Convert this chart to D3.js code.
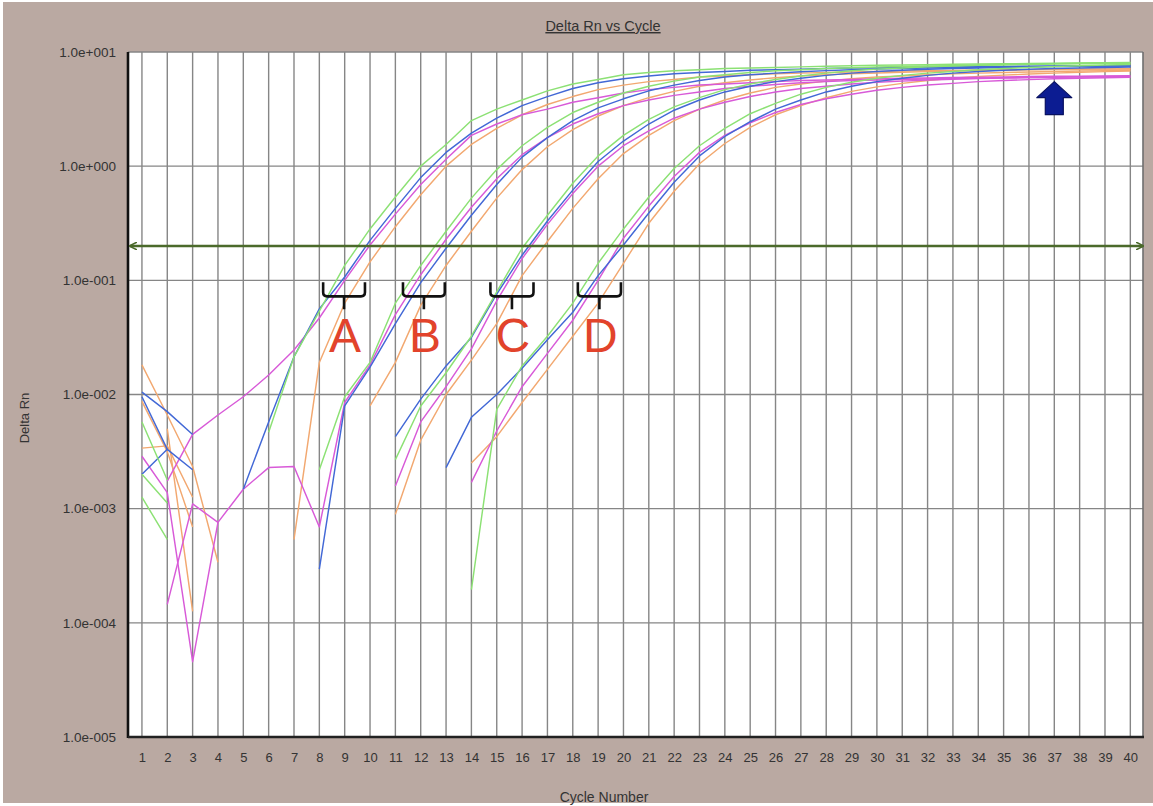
<!DOCTYPE html>
<html><head><meta charset="utf-8">
<script src="https://cdn.jsdelivr.net/npm/d3@7"></script>
<style>
html,body{margin:0;padding:0;background:#fff;}
svg{display:block;}
text{font-family:"Liberation Sans",Arial,sans-serif;}
</style>
</head><body>
<svg id="chart" width="1153" height="806"></svg>
<script>
// ---------------- DATA (Delta Rn per cycle 1..40, null = not plotted) ----------------
const cycles = d3.range(1, 41);
const yTickValues = [1e1, 1e0, 1e-1, 1e-2, 1e-3, 1e-4, 1e-5];
const yTickLabels = ["1.0e+001", "1.0e+000", "1.0e-001", "1.0e-002", "1.0e-003", "1.0e-004", "1.0e-005"];
const threshold = 0.2;
const bracketLabels = ["A", "B", "C", "D"];
const bracketFrom = [8.15, 11.3, 14.75, 18.2];
const bracketTo = [9.8, 12.95, 16.45, 19.9];
const arrowCycle = 37;
const arrowTipValue = 5.5;

const aGreen = [0.00575,0.00178,null,null,null,0.00468,0.0214,0.0537,0.135,0.282,0.537,1.0,1.55,2.51,3.16,3.80,4.57,5.25,5.75,6.31,6.61,6.84,7.0,7.16,7.24,7.33,7.41,7.50,7.59,7.64,7.69,7.74,7.80,7.85,7.89,7.93,7.96,8.0,8.04,8.07];
const aBlue = [0.0105,0.00708,0.00447,null,0.00148,0.00575,0.0214,0.0562,0.107,0.224,0.427,0.794,1.32,1.95,2.63,3.39,4.07,4.79,5.37,5.82,6.17,6.46,6.61,6.76,6.92,7.0,7.08,7.16,7.24,7.29,7.35,7.38,7.41,7.45,7.48,7.52,7.53,7.55,7.57,7.59];
const aMagenta = [null,0.00174,0.00447,0.00661,0.00955,0.0148,0.0245,0.0468,0.1,0.204,0.38,0.692,1.15,1.86,2.34,2.82,3.16,3.63,3.98,4.37,4.68,4.90,5.13,5.25,5.37,5.50,5.62,5.69,5.75,5.82,5.89,5.93,5.97,6.01,6.05,6.10,6.12,6.15,6.18,6.21];
const aOrange = [0.0182,0.00661,0.00234,0.000339,null,null,0.000537,0.0191,0.0631,0.145,0.295,0.562,1.0,1.55,2.14,2.82,3.47,4.07,4.68,5.13,5.50,5.75,6.03,6.17,6.31,6.46,6.53,6.61,6.68,6.76,6.81,6.85,6.90,6.95,6.98,7.01,7.05,7.08,7.11,7.14];

const bGreen = [0.002,0.00112,null,null,null,null,null,0.00219,0.00955,0.0191,0.0631,0.135,0.269,0.525,0.933,1.51,2.19,2.95,3.63,4.37,5.01,5.56,6.03,6.31,6.61,6.84,7.0,7.16,7.28,7.38,7.46,7.53,7.60,7.67,7.73,7.78,7.83,7.89,7.93,7.96];
const bMagenta = [0.00288,0.00138,0.0000457,0.000759,0.00148,0.00229,0.00234,0.000692,0.00851,0.0182,0.0501,0.112,0.229,0.437,0.776,1.26,1.78,2.34,2.88,3.39,3.80,4.17,4.47,4.79,5.01,5.19,5.37,5.50,5.62,5.69,5.75,5.81,5.86,5.90,5.94,5.97,6.0,6.03,6.04,6.05];
const bBlue = [0.00955,0.00331,0.00219,null,null,null,null,0.000295,0.00794,0.0174,0.0417,0.0955,0.191,0.372,0.692,1.20,1.78,2.51,3.24,3.89,4.57,5.13,5.62,6.03,6.31,6.53,6.71,6.87,7.0,7.10,7.18,7.24,7.31,7.36,7.41,7.45,7.48,7.52,7.55,7.59];
const bOrange = [0.00871,0.00316,0.000692,null,null,null,null,null,null,0.00794,0.0191,0.0603,0.135,0.269,0.525,0.933,1.48,2.09,2.75,3.39,3.98,4.52,5.01,5.37,5.69,5.96,6.17,6.31,6.46,6.56,6.65,6.73,6.81,6.87,6.92,6.97,7.01,7.05,7.08,7.11];

const cGreen = [0.00126,0.000537,null,null,null,null,null,null,null,null,0.00269,0.00794,0.0155,0.0324,0.0794,0.191,0.372,0.708,1.23,1.86,2.57,3.31,3.98,4.68,5.25,5.75,6.17,6.53,6.84,7.08,7.24,7.41,7.53,7.66,7.74,7.83,7.91,7.98,8.04,8.09];
const cBlue = [0.002,0.00331,null,null,null,null,null,null,null,null,0.00427,0.00912,0.0178,0.0316,0.0759,0.166,0.331,0.617,1.10,1.66,2.34,3.09,3.80,4.47,5.01,5.50,5.89,6.24,6.53,6.76,6.92,7.05,7.16,7.24,7.33,7.40,7.45,7.50,7.53,7.57];
const cMagenta = [null,0.000145,0.0011,0.000759,null,null,null,null,null,null,0.00158,0.00575,0.0117,0.0251,0.0661,0.155,0.309,0.575,1.0,1.51,2.04,2.63,3.16,3.63,4.07,4.47,4.79,5.01,5.25,5.43,5.56,5.69,5.78,5.86,5.93,5.98,6.03,6.07,6.10,6.12];
const cOrange = [0.00339,0.00355,0.00126,null,null,null,null,null,null,null,0.000891,0.00398,0.01,0.02,0.0417,0.11,0.219,0.427,0.776,1.29,1.86,2.51,3.16,3.80,4.37,4.90,5.25,5.56,5.82,6.03,6.17,6.31,6.43,6.53,6.61,6.68,6.76,6.82,6.87,6.92];

const dGreen = [null,null,null,null,null,null,null,null,null,null,null,null,null,0.000195,0.00741,0.0178,0.0324,0.0631,0.141,0.282,0.537,0.955,1.51,2.14,2.88,3.55,4.27,4.90,5.43,5.89,6.24,6.53,6.76,7.0,7.16,7.33,7.46,7.59,7.69,7.78];
const dMagenta = [null,null,null,null,null,null,null,null,null,null,null,null,null,0.0017,0.00479,0.0117,0.0229,0.0447,0.1,0.234,0.447,0.813,1.32,1.86,2.40,2.95,3.47,3.89,4.27,4.62,4.90,5.13,5.31,5.50,5.62,5.73,5.82,5.89,5.96,6.01];
const dBlue = [null,null,null,null,null,null,null,null,null,null,null,null,0.00229,0.00631,0.01,0.017,0.0302,0.0525,0.11,0.204,0.389,0.724,1.23,1.82,2.45,3.16,3.80,4.47,5.01,5.50,5.89,6.24,6.53,6.76,6.92,7.05,7.16,7.24,7.33,7.40];
const dOrange = [null,0.00501,0.000126,null,null,null,null,null,null,null,null,null,null,0.00251,0.00427,0.00851,0.0166,0.0324,0.0631,0.141,0.316,0.603,1.05,1.58,2.19,2.82,3.39,3.98,4.52,4.95,5.31,5.62,5.89,6.10,6.27,6.41,6.53,6.64,6.73,6.81];

const seriesNames = ["aOrange","bOrange","cOrange","dOrange","aMagenta","bMagenta","cMagenta","dMagenta","aBlue","bBlue","cBlue","dBlue","aGreen","bGreen","cGreen","dGreen"];
const seriesValues = [aOrange,bOrange,cOrange,dOrange,aMagenta,bMagenta,cMagenta,dMagenta,aBlue,bBlue,cBlue,dBlue,aGreen,bGreen,cGreen,dGreen];
const palette = {Orange:"#f2a870", Magenta:"#d85ad8", Blue:"#4268d6", Green:"#8ce174"};

// ---------------- LAYOUT ----------------
const W = 1153, H = 806;
const plot = {left:128, right:1143, top:52, bottom:737};
const svg = d3.select("#chart");

svg.append("rect").attr("x",3).attr("y",2).attr("width",W-3).attr("height",H-5).attr("fill","#baa9a2");
svg.append("rect").attr("x",plot.left).attr("y",plot.top).attr("width",plot.right-plot.left).attr("height",plot.bottom-plot.top).attr("fill","#fff");

const x = d3.scaleLinear().domain([0.45, 40.5]).range([plot.left, plot.right]);
const y = d3.scaleLog().domain([1e-5, 1e1]).range([plot.bottom, plot.top]);

// grid
const grid = svg.append("g");
grid.selectAll("line.v").data(cycles).join("line")
  .attr("x1", d=>x(d)).attr("x2", d=>x(d)).attr("y1", plot.top).attr("y2", plot.bottom)
  .attr("stroke","#868686").attr("stroke-width",1.4);
grid.selectAll("line.h").data(yTickValues).join("line")
  .attr("x1", plot.left).attr("x2", plot.right).attr("y1", d=>y(d)).attr("y2", d=>y(d))
  .attr("stroke","#868686").attr("stroke-width",1.4);

// right border
svg.append("line").attr("x1",plot.right).attr("x2",plot.right).attr("y1",plot.top).attr("y2",plot.bottom)
  .attr("stroke","#6f6f6f").attr("stroke-width",1.6);

// y axis labels
const yAxis = d3.axisLeft(y).tickValues(yTickValues).tickSize(0).tickPadding(0)
  .tickFormat((d,i)=>yTickLabels[i]);
const gy = svg.append("g").attr("transform",`translate(${plot.left-12},0)`).call(yAxis);
gy.select(".domain").remove();
gy.selectAll("text").attr("font-size",13.5).attr("fill","#333").attr("font-family",'"Liberation Sans",Arial,sans-serif');

// x axis labels
const xAxis = d3.axisBottom(x).tickValues(cycles).tickSize(0).tickPadding(0).tickFormat(d3.format("d"));
const gx = svg.append("g").attr("transform",`translate(0,${plot.bottom+16})`).call(xAxis);
gx.select(".domain").remove();
gx.selectAll("text").attr("font-size",13).attr("fill","#333").attr("font-family",'"Liberation Sans",Arial,sans-serif');

// series lines
const line = d3.line().defined(d=>d.v!=null).x(d=>x(d.c)).y(d=>y(d.v));
svg.append("clipPath").attr("id","pc").append("rect")
  .attr("x",plot.left).attr("y",plot.top).attr("width",plot.right-plot.left).attr("height",plot.bottom-plot.top);
const lines = svg.append("g").attr("clip-path","url(#pc)");
seriesValues.forEach((vals,i)=>{
  const col = palette[seriesNames[i].slice(1)];
  lines.append("path")
    .datum(vals.map((v,j)=>({c:cycles[j], v:v})))
    .attr("d", line).attr("fill","none").attr("stroke",col).attr("stroke-width",1.45)
    .attr("stroke-linejoin","round");
});

// axes lines
svg.append("line").attr("x1",plot.left).attr("x2",plot.left).attr("y1",plot.top).attr("y2",plot.bottom+1)
  .attr("stroke","#111").attr("stroke-width",2.6);
svg.append("line").attr("x1",plot.left).attr("x2",plot.right+1).attr("y1",plot.bottom).attr("y2",plot.bottom)
  .attr("stroke","#222").attr("stroke-width",2.4);

// threshold
const defs = svg.append("defs");
defs.append("marker").attr("id","arr").attr("viewBox","0 0 10 10").attr("refX",9).attr("refY",5)
  .attr("markerWidth",3).attr("markerHeight",3).attr("orient","auto-start-reverse")
  .append("path").attr("d","M0,0 L10,5 L0,10").attr("fill","none").attr("stroke","#4b6a2b").attr("stroke-width",2);
svg.append("line").attr("x1",plot.left+2).attr("x2",plot.right).attr("y1",y(threshold)).attr("y2",y(threshold))
  .attr("stroke","#4b6a2b").attr("stroke-width",2.6)
  .attr("marker-start","url(#arr)").attr("marker-end","url(#arr)");

// brackets
const bTop = y(0.1) + 2, bBar = y(0.1) + 16, bStem = y(0.1) + 29;
bracketLabels.forEach((lab,i)=>{
  const x1 = x(bracketFrom[i]), x2 = x(bracketTo[i]), xm = (x1+x2)/2;
  svg.append("path")
    .attr("d",`M${x1},${bTop} L${x1},${bBar-4} Q${x1},${bBar} ${x1+4},${bBar} L${x2-4},${bBar} Q${x2},${bBar} ${x2},${bBar-4} L${x2},${bTop} M${xm},${bBar} L${xm},${bStem}`)
    .attr("fill","none").attr("stroke","#111").attr("stroke-width",2.6);
  svg.append("text").attr("x",xm+1).attr("y",y(0.1)+72).attr("text-anchor","middle")
    .attr("font-size",48).attr("fill","#e2432b").text(lab);
});

// blue arrow
const ax = x(arrowCycle), ay = y(arrowTipValue);
svg.append("path")
  .attr("d",`M${ax},${ay} L${ax+17.5},${ay+16} L${ax+9},${ay+16} L${ax+9},${ay+33} L${ax-9},${ay+33} L${ax-9},${ay+16} L${ax-17.5},${ay+16} Z`)
  .attr("fill","#0c1c92").attr("stroke","#071060").attr("stroke-width",1.2).attr("stroke-linejoin","round");

// titles
svg.append("text").attr("x",603).attr("y",31).attr("text-anchor","middle")
  .attr("font-size",14.5).attr("fill","#333").attr("text-decoration","underline").text("Delta Rn vs Cycle");
svg.append("text").attr("x",604).attr("y",802).attr("text-anchor","middle")
  .attr("font-size",14).attr("fill","#333").text("Cycle Number");
svg.append("text").attr("transform","translate(29,418) rotate(-90)").attr("text-anchor","middle")
  .attr("font-size",13).attr("fill","#333").text("Delta Rn");
</script>
</body></html>
